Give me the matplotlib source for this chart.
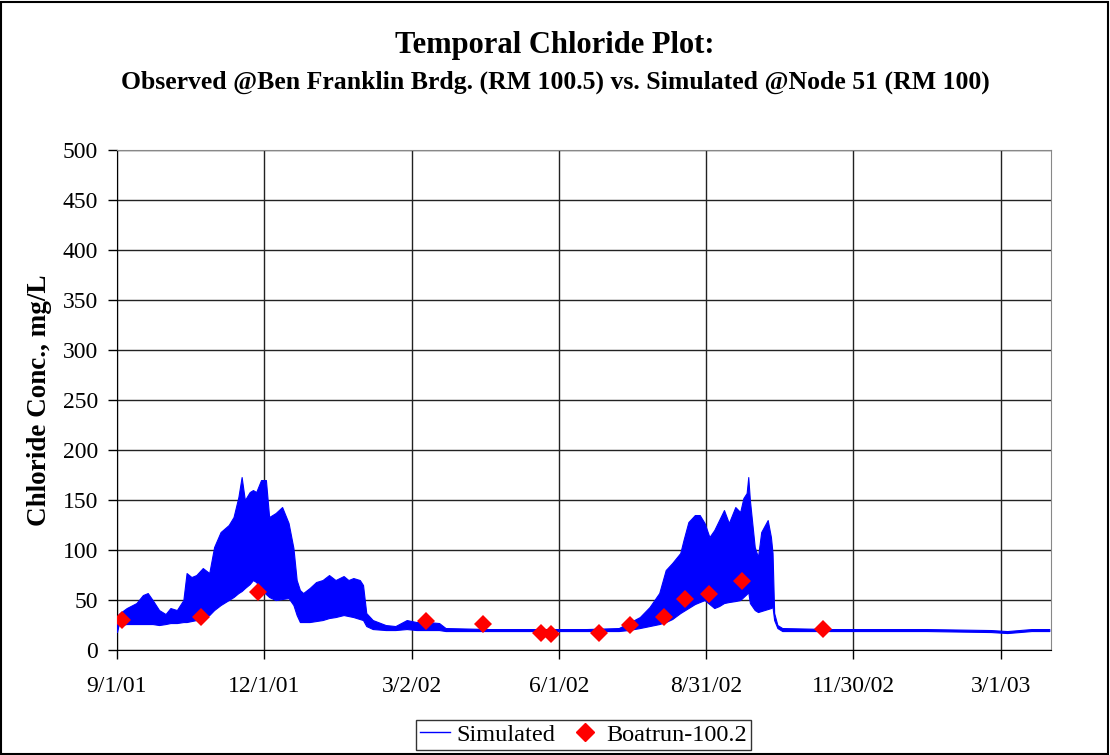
import numpy as np
import matplotlib
matplotlib.use('Agg')
import matplotlib.pyplot as plt
from matplotlib.lines import Line2D
from matplotlib.patches import Rectangle

plt.rcParams['font.family'] = ['Liberation Serif', 'DejaVu Serif']

# Simulated chloride: tidal envelope (days since 9/1/01), mg/L
start = np.datetime64('2001-09-01')
sim_day = [0, 1, 6, 12, 16, 19, 22, 26, 30, 33, 37, 41, 43, 46, 49, 53, 57, 60, 64, 69,
           72, 75, 77, 79, 82, 84, 86, 89, 92, 94, 98, 102, 106, 109, 111, 113, 115, 119,
           123, 127, 131, 135, 140, 143, 146, 150, 152, 154, 158, 166, 172, 179, 185, 192,
           199, 203, 230, 260, 290, 310, 316, 323, 329, 335, 339, 343, 348, 350, 353, 357,
           360, 363, 366, 369, 372, 375, 378, 382, 385, 387, 389, 390, 391, 394, 396, 398,
           402, 404, 405, 406, 408, 411, 440, 500, 540, 550, 565, 576]
sim_low = [18, 25, 26, 26, 26, 26, 26, 25, 26, 27, 27, 28, 28, 29, 30, 32, 35, 40, 45, 50,
           53, 57, 59, 62, 66, 70, 68, 60, 56, 53, 50, 51, 52, 45, 35, 28, 28, 28,
           29, 30, 32, 33, 35, 34, 33, 31, 30, 24, 21, 20, 20, 21, 20, 20,
           20, 19, 19, 19, 19, 19, 20, 22, 24, 26, 28, 31, 37, 39, 42, 46,
           48, 50, 46, 42, 44, 47, 48, 49, 50, 53, 56, 58, 47, 40, 38, 39,
           41, 42, 43, 30, 22, 19, 19, 19, 18, 17, 19, 19]
sim_high = [30, 36, 42, 47, 55, 57, 50, 40, 36, 42, 40, 50, 77, 73, 75, 82, 77, 103, 118, 125,
            133, 153, 173, 150, 158, 160, 158, 170, 170, 133, 137, 143, 127, 102, 70, 60, 57, 62,
            68, 70, 75, 70, 74, 70, 72, 70, 65, 37, 30, 25, 24, 30, 28, 28,
            27, 22, 21, 21, 21, 22, 27, 33, 43, 57, 80, 87, 97, 110, 128, 135,
            135, 127, 113, 120, 130, 140, 127, 143, 138, 152, 157, 173, 150, 103, 93, 118,
            130, 113, 97, 37, 25, 22, 21, 21, 20, 19, 21, 21]

# Observed boat run samples
obs_day = [3, 52, 87, 191, 226, 262, 268, 298, 317, 338, 351, 366, 386, 436]
obs_val = [30, 33, 58, 29, 26, 17, 16, 17, 25, 33, 51, 56, 69, 21]

tick_labels = ['9/1/01', '12/1/01', '3/2/02', '6/1/02', '8/31/02', '11/30/02', '3/1/03']

sim_dates = start + np.array(sim_day).astype('timedelta64[D]')
obs_dates = start + np.array(obs_day).astype('timedelta64[D]')
tick_dates = start + (np.arange(len(tick_labels)) * 91).astype('timedelta64[D]')

fig = plt.figure(figsize=(11.1, 7.55), dpi=100)
ax = fig.add_axes([0.1054, 0.139, 0.8414, 0.6623])

ax.fill_between(sim_dates, sim_low, sim_high, color='#0000ff', linewidth=0.8, zorder=3)
ax.plot(obs_dates, obs_val, 'D', color='#ff0000', markersize=9, markeredgewidth=0, zorder=4)

ax.set_xlim(start, start + np.timedelta64(577, 'D'))
ax.set_ylim(0, 500)
ax.set_yticks(np.arange(0, 501, 50))
ax.set_xticks(tick_dates)
ax.set_xticklabels(tick_labels)
ax.tick_params(axis='both', labelsize=17, direction='out', length=6.5, width=1, color='black')
ax.tick_params(axis='x', pad=12)
ax.tick_params(axis='y', pad=7)
ax.grid(True, color='#222222', linewidth=1)
ax.set_axisbelow(True)
for side in ['top', 'right']:
    ax.spines[side].set_color('#888888')
for side in ['left', 'bottom']:
    ax.spines[side].set_color('black')

ax.set_ylabel('Chloride Conc., mg/L', fontsize=19.5, fontweight='bold', labelpad=8)

fig.text(0.5, 0.94, 'Temporal Chloride Plot:', ha='center', va='center',
         fontsize=22, fontweight='bold')
fig.text(0.5, 0.891, 'Observed @Ben Franklin Brdg. (RM 100.5) vs. Simulated @Node 51 (RM 100)',
         ha='center', va='center', fontsize=18.5, fontweight='bold')

handles = [Line2D([], [], color='#0000ff', linewidth=1),
           Line2D([], [], marker='D', color='#ff0000', linestyle='none', markersize=9)]
leg = fig.legend(handles, ['Simulated', 'Boatrun-100.2'], loc='center',
                 bbox_to_anchor=(0.5255, 0.0265), ncol=2, fontsize=17.5, frameon=True,
                 fancybox=False, edgecolor='black', handlelength=1.25, columnspacing=0.6,
                 borderpad=0.15, handletextpad=0.25, borderaxespad=0)
leg.get_frame().set_linewidth(1)

fig.patches.append(Rectangle((0.001, 0.001), 0.997, 0.996, transform=fig.transFigure,
                             fill=False, edgecolor='black', linewidth=1.5))

fig.savefig('out.png', dpi=100)
